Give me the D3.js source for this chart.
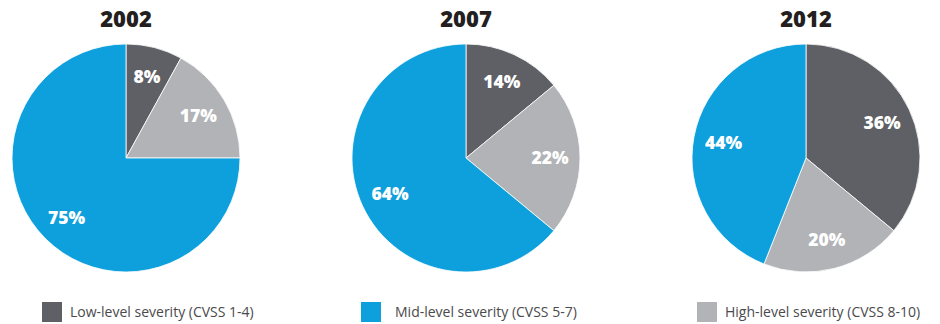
<!DOCTYPE html>
<html>
<head>
<meta charset="utf-8">
<script src="https://cdn.jsdelivr.net/npm/d3@7"></script>
<style>
  html, body { margin: 0; padding: 0; background: #fff; }
  svg { display: block; }
</style>
</head>
<body>
<svg id="chart" width="940" height="324"></svg>
<script>
// Vulnerability severity share by year
const years = ["2002", "2007", "2012"];
const categories = ["Low-level severity (CVSS 1-4)", "High-level severity (CVSS 8-10)", "Mid-level severity (CVSS 5-7)"];
const lowShare  = [8, 14, 36];
const highShare = [17, 22, 20];
const midShare  = [75, 64, 44];
const legendOrder = ["Low-level severity (CVSS 1-4)", "Mid-level severity (CVSS 5-7)", "High-level severity (CVSS 8-10)"];

const colors = d3.scaleOrdinal()
  .domain(categories)
  .range(["#5e6065", "#b1b3b6", "#0ea0dc"]);

const svg = d3.select("#chart");
const radius = 114;
const labelRadius = 84;
const cy = 158;

const cx = d3.scalePoint().domain(years).range([126, 806]);

const pie = d3.pie().sort(null).value(d => d.value);
const arc = d3.arc().innerRadius(0).outerRadius(radius);
const labelArc = d3.arc().innerRadius(labelRadius).outerRadius(labelRadius);

years.forEach((year, i) => {
  const rows = [
    { key: categories[0], value: lowShare[i] },
    { key: categories[1], value: highShare[i] },
    { key: categories[2], value: midShare[i] }
  ];
  const g = svg.append("g").attr("transform", `translate(${cx(year)},${cy})`);

  g.selectAll("path.slice")
    .data(pie(rows))
    .join("path")
    .attr("class", "slice")
    .attr("d", arc)
    .attr("fill", d => colors(d.data.key))
    .attr("stroke", "#fff")
    .attr("stroke-width", 0.8);

  g.selectAll("text.pct")
    .data(pie(rows))
    .join("text")
    .attr("class", "pct")
    .attr("transform", d => `translate(${labelArc.centroid(d)})`)
    .attr("text-anchor", "middle")
    .attr("dy", "0.36em")
    .attr("fill", "#fff")
    .style("font-family", "'Open Sans', sans-serif")
    .style("font-weight", 800)
    .style("font-size", "17.5px")
    .text(d => d.data.value + "%");

  svg.append("text")
    .attr("x", cx(year))
    .attr("y", 27)
    .attr("text-anchor", "middle")
    .attr("fill", "#231f20")
    .style("font-family", "'Open Sans', sans-serif")
    .style("font-weight", 800)
    .style("font-size", "22px")
    .text(year);
});

// Legend along the bottom
const legendX = d3.scaleOrdinal().domain(legendOrder).range([42, 361, 697]);
const legend = svg.selectAll("g.legend")
  .data(legendOrder)
  .join("g")
  .attr("class", "legend")
  .attr("transform", d => `translate(${legendX(d)},302)`);

legend.append("rect")
  .attr("width", 20)
  .attr("height", 20)
  .attr("fill", d => colors(d));

legend.append("text")
  .attr("x", d => d === legendOrder[1] ? 34 : 28)
  .attr("y", 15)
  .attr("fill", "#4a4a4c")
  .style("font-family", "'Open Sans', sans-serif")
  .style("font-size", "14px")
  .text(d => d);
</script>
</body>
</html>
